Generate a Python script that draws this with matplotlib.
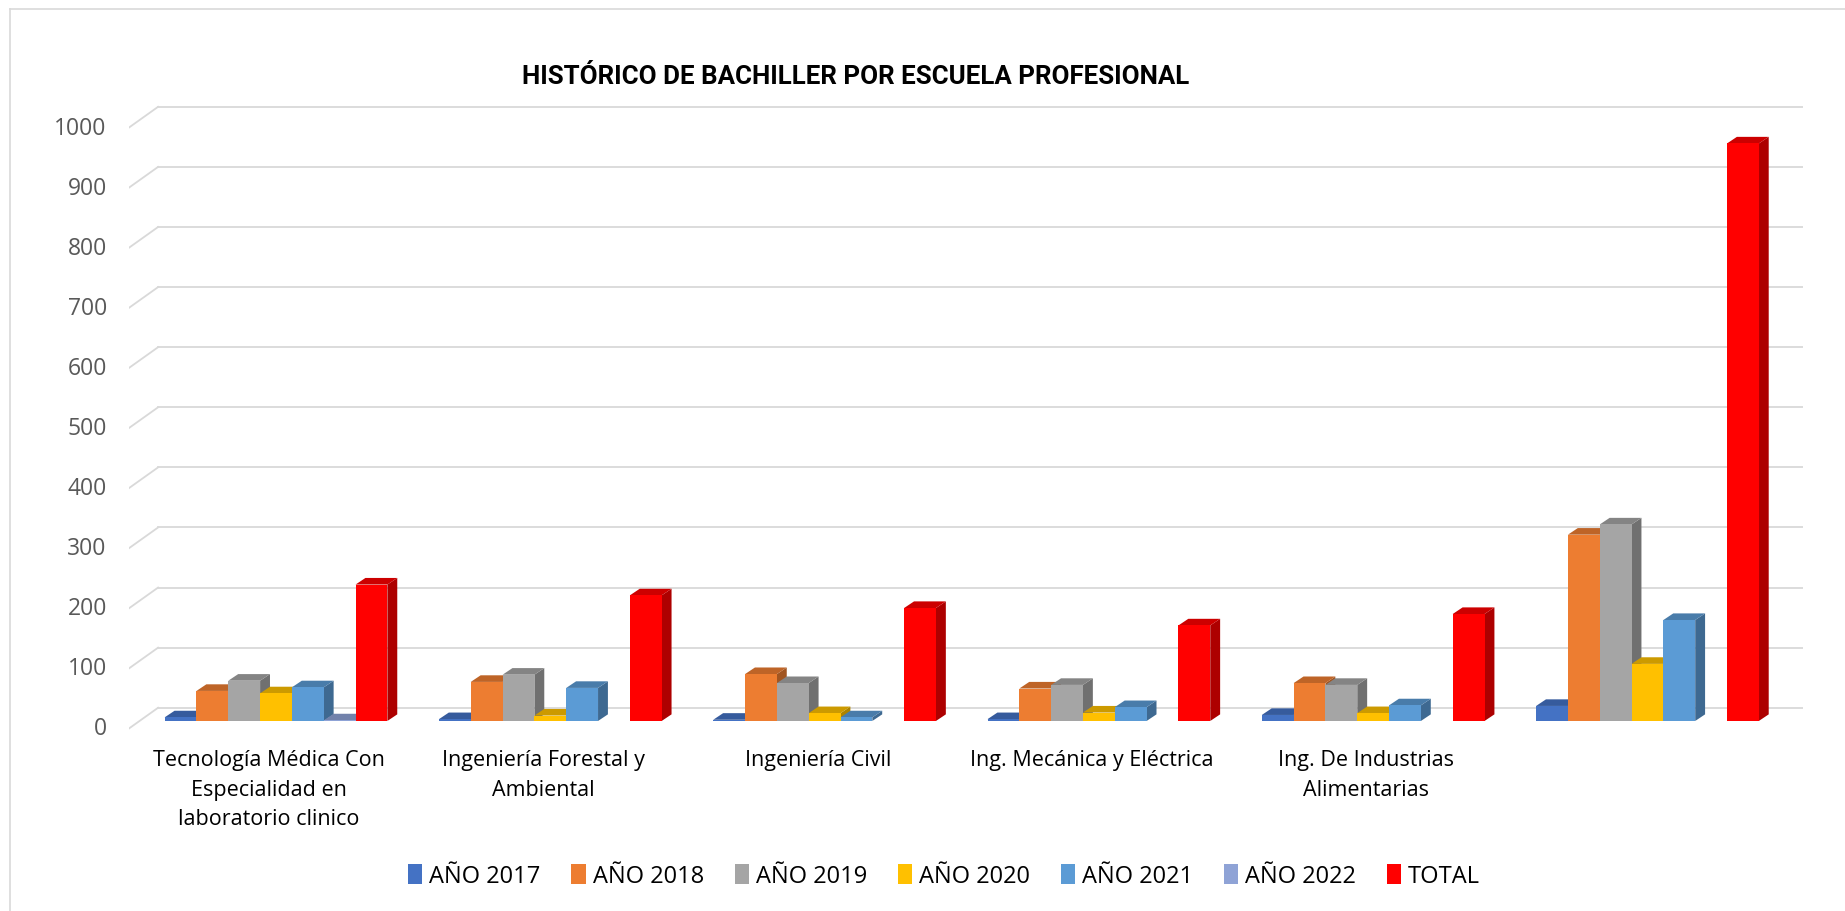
import numpy as np
import matplotlib.pyplot as plt
from matplotlib.patches import Polygon, Patch
from matplotlib.lines import Line2D

categories = ['Tecnología Médica Con\nEspecialidad en\nlaboratorio clinico',
              'Ingeniería Forestal y\nAmbiental',
              'Ingeniería Civil',
              'Ing. Mecánica y Eléctrica',
              'Ing. De Industrias\nAlimentarias',
              '']
series = ['AÑO 2017', 'AÑO 2018', 'AÑO 2019', 'AÑO 2020', 'AÑO 2021', 'AÑO 2022', 'TOTAL']
ano_2017 = [6, 3, 2, 3, 10, 25]
ano_2018 = [50, 65, 78, 54, 63, 310]
ano_2019 = [67, 77, 63, 60, 60, 327]
ano_2020 = [46, 9, 13, 14, 13, 95]
ano_2021 = [56, 55, 6, 23, 26, 168]
ano_2022 = [1, np.nan, np.nan, np.nan, np.nan, np.nan]
total = [227, 209, 188, 159, 178, 961]
yticks = list(range(0, 1001, 100))

values = [ano_2017, ano_2018, ano_2019, ano_2020, ano_2021, ano_2022, total]
colors = ['#4472C4', '#ED7D31', '#A5A5A5', '#FFC000', '#5B9BD5', '#8FA3D6', '#FF0000']


def shade(c, f):
    c = c.lstrip('#')
    r, g, b = [int(c[i:i + 2], 16) / 255 for i in (0, 2, 4)]
    return (r * f, g * f, b * f)


fig = plt.figure(figsize=(18.45, 9.12), dpi=100)
ax = fig.add_axes([129 / 1845, 1 - 740 / 912, (1803 - 129) / 1845, 640 / 912])
xmin, xmax = -0.536, 5.567
ax.set_xlim(xmin, xmax)
ax.set_ylim(-30, 1035)
ax.axis('off')

# walls / gridlines (oblique back plane)
wall_dx = 0.106
back_dy, front_dy = 22.0, -12.5
for v in yticks:
    ax.plot([xmin + wall_dx, xmax], [v + back_dy, v + back_dy], color='#D9D9D9', lw=1.3, zorder=1)
    ax.plot([xmin, xmin + wall_dx], [v + front_dy, v + back_dy], color='#D9D9D9', lw=1.3, zorder=1)
    ax.annotate(str(v), xy=(xmin, v + front_dy), xytext=(-16, 0), textcoords='offset points',
                ha='right', va='center', fontsize=16.5, color='#595959', family='Open Sans')

# bars with faux 3D faces
w = 0.116
dx, dy = 0.036, 11.0
x = np.arange(len(categories))
z = 2
for j, (vals, col) in enumerate(zip(values, colors)):
    for i, h in enumerate(vals):
        if np.isnan(h):
            continue
        xc = x[i] + (j - 3) * w
        l, r = xc - w / 2, xc + w / 2
        z += 1
        side = Polygon([(r, 0), (r + dx, dy), (r + dx, h + dy), (r, h)], closed=True,
                       facecolor=shade(col, 0.68), edgecolor='none', zorder=z)
        top = Polygon([(l, h), (l + dx, h + dy), (r + dx, h + dy), (r, h)], closed=True,
                      facecolor=shade(col, 0.8), edgecolor='none', zorder=z)
        ax.add_patch(side)
        ax.add_patch(top)
        ax.bar(xc, h, width=w, color=col, zorder=z + 0.5, linewidth=0)
        z += 1

for i, lab in enumerate(categories):
    ax.annotate(lab, xy=(x[i] - 0.025, -30), xytext=(0, -7), textcoords='offset points',
                ha='center', va='top', fontsize=15.5, color='#000000', family='Open Sans',
                linespacing=1.55)

fig.text(856 / 1845, 1 - 77 / 912, 'HISTÓRICO DE BACHILLER POR ESCUELA PROFESIONAL',
         ha='center', va='center', fontsize=18.6, fontweight='bold',
         family='Roboto', color='#000000')

handles = [Patch(facecolor=c, edgecolor='none') for c in colors]
fig.legend(handles, series, loc='center', bbox_to_anchor=(944 / 1845, 1 - 877 / 912), ncol=7,
           frameon=False, handlelength=0.6, handleheight=0.9, handletextpad=0.3,
           columnspacing=1.3, prop={'family': 'Open Sans', 'size': 17})

# chart border
fig.add_artist(Line2D([10 / 1845, 1], [1 - 10 / 912, 1 - 10 / 912], color='#D9D9D9', lw=1.2))
fig.add_artist(Line2D([10 / 1845, 10 / 1845], [0, 1 - 10 / 912], color='#D9D9D9', lw=1.2))

fig.savefig('out.png', dpi=100, facecolor='white')
